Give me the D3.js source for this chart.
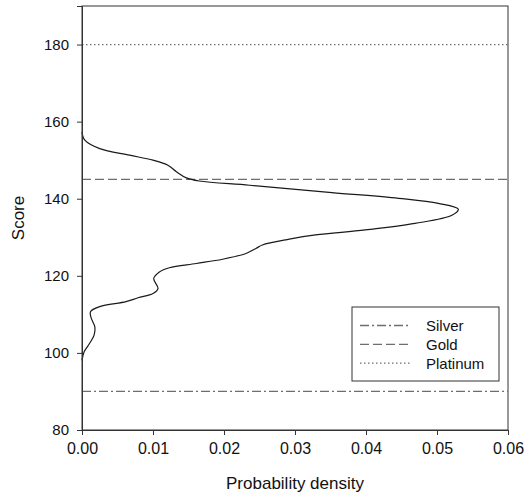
<!DOCTYPE html>
<html>
<head>
<meta charset="utf-8">
<script src="https://cdn.jsdelivr.net/npm/d3@7"></script>
<style>
  html, body { margin: 0; padding: 0; background: #fff; }
  svg text { font-family: "Liberation Sans", Arial, sans-serif; fill: #111; }
</style>
</head>
<body>
<svg id="chart" width="532" height="496"></svg>
<script>
// density curve, read from top (high score) to bottom
const scores  = [157.3, 155.2, 153.0, 151.3, 150.0, 148.7, 147.0, 145.4, 144.6, 143.5, 141.6, 140.1, 138.8, 137.3,
                 135.7, 133.6, 131.9, 130.6, 129.5, 128.0, 127.1, 125.8, 124.3, 123.2, 122.1, 121.0, 119.3,
                 116.7, 115.4, 114.3, 113.3, 112.0, 110.7, 109.0, 106.8, 104.6, 102.0, 100.3, 98.1];
const density = [0.0000, 0.0004, 0.0025, 0.0067, 0.0100, 0.0121, 0.0133, 0.0147, 0.0165, 0.0236, 0.0352, 0.0446, 0.0502, 0.0530,
                 0.0521, 0.0469, 0.0399, 0.0329, 0.0292, 0.0254, 0.0245, 0.0231, 0.0198, 0.0161, 0.0123, 0.0109, 0.0101,
                 0.0107, 0.0100, 0.0079, 0.0062, 0.0025, 0.0012, 0.0013, 0.0018, 0.0017, 0.0009, 0.0003, 0.0000];

const refNames  = ['Silver', 'Gold', 'Platinum'];
const refScores = [90, 145, 180];
const refDash   = ['9,3,2,3', '9,4', '1.5,2.5'];

const xTicks = [0, 0.01, 0.02, 0.03, 0.04, 0.05, 0.06];
const yTicks = [80, 100, 120, 140, 160, 180];

const M = { left: 82, right: 24, top: 6, bottom: 66 };
const W = 532, H = 496;

const svg = d3.select('#chart');
const x = d3.scaleLinear().domain([0, 0.06]).range([M.left, W - M.right]);
const y = d3.scaleLinear().domain([80, 190]).range([H - M.bottom, M.top]);

// frame (top + right)
svg.append('rect')
  .attr('x', x(0)).attr('y', y(190))
  .attr('width', x(0.06) - x(0)).attr('height', y(80) - y(190))
  .attr('fill', 'none').attr('stroke', '#333').attr('stroke-width', 1);

// reference lines
refScores.forEach((s, i) => {
  svg.append('line')
    .attr('x1', x(0)).attr('x2', x(0.06))
    .attr('y1', y(s)).attr('y2', y(s))
    .attr('stroke', '#6e6e6e').attr('stroke-width', 1.3)
    .attr('stroke-dasharray', refDash[i]);
});

// density curve
const pts = scores.map((s, i) => [density[i], s]);
svg.append('path')
  .datum(pts)
  .attr('fill', 'none').attr('stroke', '#1a1a1a').attr('stroke-width', 1.2)
  .attr('d', d3.line().x(d => x(d[0])).y(d => y(d[1])).curve(d3.curveCatmullRom.alpha(0.5)));

// axes
const xAxis = svg.append('g')
  .attr('transform', `translate(0,${y(80)})`)
  .call(d3.axisBottom(x).tickValues(xTicks).tickFormat(d3.format('.2f')).tickSize(5).tickPadding(8));
const yAxis = svg.append('g')
  .attr('transform', `translate(${x(0)},0)`)
  .call(d3.axisLeft(y).tickValues(yTicks).tickSize(5).tickPadding(8));
[xAxis, yAxis].forEach(a => {
  a.select('.domain').attr('stroke', '#333');
  a.selectAll('.tick line').attr('stroke', '#333');
  a.selectAll('.tick text').attr('font-size', 15).attr('fill', '#111')
    .attr('font-family', '"Liberation Sans", Arial, sans-serif');
});
xAxis.selectAll('.tick text').attr('font-size', 16);

svg.append('text')
  .attr('x', (x(0) + x(0.06)) / 2).attr('y', 489)
  .attr('text-anchor', 'middle').attr('font-size', 17)
  .text('Probability density');
svg.append('text')
  .attr('transform', `translate(24,${(y(80) + y(190)) / 2}) rotate(-90)`)
  .attr('text-anchor', 'middle').attr('font-size', 17)
  .text('Score');

// legend
const lg = svg.append('g').attr('transform', 'translate(352,307)');
lg.append('rect').attr('width', 147).attr('height', 74)
  .attr('fill', '#fff').attr('stroke', '#333').attr('stroke-width', 1);
refNames.forEach((n, i) => {
  const ly = 18.5 + i * 18.8;
  lg.append('line').attr('x1', 8).attr('x2', 59).attr('y1', ly).attr('y2', ly)
    .attr('stroke', '#6e6e6e').attr('stroke-width', 1.3).attr('stroke-dasharray', refDash[i]);
  lg.append('text').attr('x', 74).attr('y', ly + 5.5).attr('font-size', 15).text(n);
});
</script>
</body>
</html>
